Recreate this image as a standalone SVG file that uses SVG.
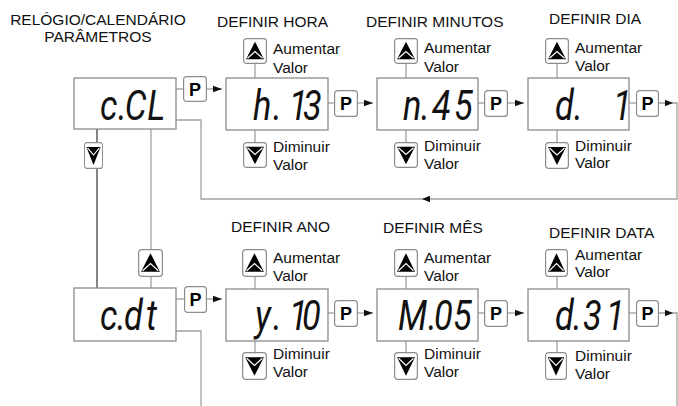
<svg xmlns="http://www.w3.org/2000/svg" xmlns:xlink="http://www.w3.org/1999/xlink" width="678" height="406" viewBox="0 0 678 406">
  <style>
    .lbl { font-family: "Liberation Sans", Arial, sans-serif; font-size: 15.5px; fill: #111; }
    .disp { font-family: Roboto, "Liberation Sans", sans-serif; font-style: italic; font-weight: 400; font-size: 43px; fill: #111; }
    .pkey { font-family: "Liberation Sans", Arial, sans-serif; font-weight: bold; font-size: 18px; fill: #000; text-anchor: middle; }
    .box { fill: #fff; stroke: #8c8c8c; stroke-width: 1.3; }
    .key { fill: #fff; stroke: #8c8c8c; stroke-width: 1.2; }
    .wire { fill: none; stroke: #a0a0a0; stroke-width: 1.3; }
    .wire-dark { fill: none; stroke: #333; stroke-width: 1.2; }
    .head { fill: #111; }
  </style>
  <defs>
    <marker id="arr" markerUnits="userSpaceOnUse" markerWidth="10" markerHeight="8" refX="9" refY="4" orient="auto">
      <path d="M0,0.8 L9,4 L0,7.2 Z" fill="#111"/>
    </marker>
    <symbol id="up" viewBox="0 0 24 27" preserveAspectRatio="none">
      <rect x="0.6" y="0.6" width="22.8" height="25.8" rx="3" class="key"/>
      <path d="M12,4 L21,22 L3,22 Z" fill="#000"/>
      <path d="M4.5,21 L12,14 L19.5,21" fill="none" stroke="#fff" stroke-width="1.2"/>
    </symbol>
    <symbol id="down" viewBox="0 0 24 27" preserveAspectRatio="none">
      <rect x="0.6" y="0.6" width="22.8" height="25.8" rx="3" class="key"/>
      <path d="M3,5 L21,5 L12,23 Z" fill="#000"/>
      <path d="M4.5,6 L12,13 L19.5,6" fill="none" stroke="#fff" stroke-width="1.2"/>
    </symbol>
    <symbol id="pk" viewBox="0 0 24 27" preserveAspectRatio="none">
      <rect x="0.6" y="0.6" width="22.8" height="25.8" rx="3" class="key"/>
    </symbol>
  </defs>

  <!-- section titles -->
  <g id="titles">
    <text class="lbl" x="98" y="25" text-anchor="middle">RELÓGIO/CALENDÁRIO</text>
    <text class="lbl" x="98" y="42" text-anchor="middle">PARÂMETROS</text>
    <text class="lbl" x="217" y="27">DEFINIR HORA</text>
    <text class="lbl" x="366" y="27">DEFINIR MINUTOS</text>
    <text class="lbl" x="549" y="24">DEFINIR DIA</text>
    <text class="lbl" x="231" y="232">DEFINIR ANO</text>
    <text class="lbl" x="383" y="233">DEFINIR MÊS</text>
    <text class="lbl" x="549" y="238">DEFINIR DATA</text>
  </g>

  <!-- connectors -->
  <g id="connectors">
    <!-- top row -->
    <line class="wire" x1="176" y1="89" x2="183" y2="89"/>
    <line class="wire" x1="207" y1="89" x2="222" y2="89" marker-end="url(#arr)"/>
    <line class="wire" x1="328" y1="103" x2="334" y2="103"/>
    <line class="wire" x1="358" y1="103" x2="373" y2="103" marker-end="url(#arr)"/>
    <line class="wire" x1="478" y1="103" x2="484" y2="103"/>
    <line class="wire" x1="508" y1="103" x2="524" y2="103" marker-end="url(#arr)"/>
    <line class="wire" x1="629" y1="103" x2="636" y2="103"/>
    <path class="wire" d="M659,103 H677 V199 H201 V120 H176"/>
    <path class="head" d="M673,103 L665,99.8 L665,106.2 Z"/>
    <path class="head" d="M422,199 L430,195.8 L430,202.2 Z"/>
    <!-- key stems, top row -->
    <line class="wire" x1="255" y1="64" x2="255" y2="78"/>
    <line class="wire" x1="255" y1="130" x2="255" y2="142"/>
    <line class="wire" x1="406" y1="64" x2="406" y2="78"/>
    <line class="wire" x1="406" y1="130" x2="406" y2="142"/>
    <line class="wire" x1="557" y1="64" x2="557" y2="78"/>
    <line class="wire" x1="557" y1="130" x2="557" y2="142"/>
    <!-- left column -->
    <line class="wire-dark" x1="97" y1="129" x2="97" y2="142"/>
    <line class="wire-dark" x1="97" y1="169" x2="97" y2="288"/>
    <line class="wire" x1="151" y1="129" x2="151" y2="249"/>
    <line class="wire" x1="151" y1="277" x2="151" y2="288"/>
    <!-- bottom row -->
    <line class="wire" x1="176" y1="299" x2="184" y2="299"/>
    <line class="wire" x1="207" y1="299" x2="222" y2="299" marker-end="url(#arr)"/>
    <line class="wire" x1="328" y1="313" x2="334" y2="313"/>
    <line class="wire" x1="358" y1="313" x2="373" y2="313" marker-end="url(#arr)"/>
    <line class="wire" x1="478" y1="313" x2="484" y2="313"/>
    <line class="wire" x1="508" y1="313" x2="524" y2="313" marker-end="url(#arr)"/>
    <line class="wire" x1="629" y1="313" x2="636" y2="313"/>
    <path class="wire" d="M659,313 H677 V406"/>
    <path class="head" d="M673,313 L665,309.8 L665,316.2 Z"/>
    <path class="wire" d="M176,331 H201 V406"/>
    <!-- key stems, bottom row -->
    <line class="wire" x1="255" y1="277" x2="255" y2="289"/>
    <line class="wire" x1="255" y1="341" x2="255" y2="352"/>
    <line class="wire" x1="406" y1="277" x2="406" y2="289"/>
    <line class="wire" x1="406" y1="341" x2="406" y2="352"/>
    <line class="wire" x1="557" y1="277" x2="557" y2="289"/>
    <line class="wire" x1="557" y1="341" x2="557" y2="352"/>
  </g>

  <!-- menu entry: clock / calendar -->
  <g id="node-ccl">
    <rect class="box" x="74" y="78" width="102" height="51"/>
    <text class="disp" transform="translate(100,120) scale(0.8,1)" x="0 22.5 31 59" y="0">c.CL</text>
    <use xlink:href="#pk" x="183" y="76" width="24" height="26"/>
    <text class="pkey" x="195" y="96">P</text>
    <use xlink:href="#down" x="84" y="142" width="19" height="27"/>
  </g>

  <g id="node-hora">
    <rect class="box" x="226" y="78" width="102" height="52"/>
    <text class="disp" transform="translate(253,120) scale(0.8,1)" x="0 25 45 62.5" y="0">h.13</text>
    <use xlink:href="#up" x="243" y="38" width="24" height="26"/>
    <use xlink:href="#down" x="243" y="142" width="24" height="26"/>
    <text class="lbl" x="273" y="54">Aumentar</text>
    <text class="lbl" x="273" y="73">Valor</text>
    <text class="lbl" x="273" y="152">Diminuir</text>
    <text class="lbl" x="273" y="170">Valor</text>
    <use xlink:href="#pk" x="334" y="90" width="24" height="27"/>
    <text class="pkey" x="346" y="110">P</text>
  </g>

  <g id="node-minutos">
    <rect class="box" x="377" y="78" width="101" height="52"/>
    <text class="disp" transform="translate(403,120) scale(0.8,1)" x="0 22.5 36.25 63.75" y="0">n.45</text>
    <use xlink:href="#up" x="394" y="38" width="24" height="26"/>
    <use xlink:href="#down" x="394" y="142" width="24" height="26"/>
    <text class="lbl" x="424" y="53">Aumentar</text>
    <text class="lbl" x="424" y="72">Valor</text>
    <text class="lbl" x="424" y="151">Diminuir</text>
    <text class="lbl" x="424" y="169">Valor</text>
    <use xlink:href="#pk" x="484" y="90" width="24" height="27"/>
    <text class="pkey" x="496" y="110">P</text>
  </g>

  <g id="node-dia">
    <rect class="box" x="528" y="78" width="101" height="52"/>
    <text class="disp" transform="translate(555,120) scale(0.8,1)" x="0 23.75 50 72.5" y="0" xml:space="preserve">d. 1</text>
    <use xlink:href="#up" x="545" y="38" width="24" height="26"/>
    <use xlink:href="#down" x="545" y="142" width="24" height="27"/>
    <text class="lbl" x="575" y="53">Aumentar</text>
    <text class="lbl" x="575" y="71">Valor</text>
    <text class="lbl" x="575" y="151">Diminuir</text>
    <text class="lbl" x="575" y="168">Valor</text>
    <use xlink:href="#pk" x="636" y="90" width="23" height="27"/>
    <text class="pkey" x="647.5" y="110">P</text>
  </g>

  <!-- menu entry: date -->
  <g id="node-cdt">
    <rect class="box" x="74" y="288" width="102" height="53"/>
    <text class="disp" transform="translate(100,330) scale(0.8,1)" x="0 21.25 30 57.5" y="0">c.dt</text>
    <use xlink:href="#up" x="138" y="249" width="25" height="28"/>
    <use xlink:href="#pk" x="184" y="286" width="23" height="27"/>
    <text class="pkey" x="195.5" y="306">P</text>
  </g>

  <g id="node-ano">
    <rect class="box" x="226" y="289" width="102" height="52"/>
    <text class="disp" transform="translate(255,330) scale(0.8,1)" x="0 22.5 42.5 58.75" y="0">y.10</text>
    <use xlink:href="#up" x="242" y="249" width="25" height="28"/>
    <use xlink:href="#down" x="242" y="352" width="25" height="28"/>
    <text class="lbl" x="273" y="263">Aumentar</text>
    <text class="lbl" x="273" y="281">Valor</text>
    <text class="lbl" x="273" y="359">Diminuir</text>
    <text class="lbl" x="273" y="377">Valor</text>
    <use xlink:href="#pk" x="334" y="300" width="24" height="27"/>
    <text class="pkey" x="346" y="320">P</text>
  </g>

  <g id="node-mes">
    <rect class="box" x="377" y="289" width="101" height="52"/>
    <text class="disp" transform="translate(398,330) scale(0.8,1)" x="0 37.5 45 68.75" y="0">M.05</text>
    <use xlink:href="#up" x="394" y="249" width="24" height="28"/>
    <use xlink:href="#down" x="394" y="352" width="24" height="28"/>
    <text class="lbl" x="424" y="263">Aumentar</text>
    <text class="lbl" x="424" y="281">Valor</text>
    <text class="lbl" x="424" y="359">Diminuir</text>
    <text class="lbl" x="424" y="377">Valor</text>
    <use xlink:href="#pk" x="484" y="300" width="24" height="27"/>
    <text class="pkey" x="496" y="320">P</text>
  </g>

  <g id="node-data">
    <rect class="box" x="528" y="289" width="101" height="52"/>
    <text class="disp" transform="translate(555,330) scale(0.8,1)" x="0 22.5 35 63.75" y="0">d.31</text>
    <use xlink:href="#up" x="545" y="249" width="23" height="28"/>
    <use xlink:href="#down" x="545" y="352" width="22" height="28"/>
    <text class="lbl" x="575" y="260">Aumentar</text>
    <text class="lbl" x="575" y="277">Valor</text>
    <text class="lbl" x="575" y="361">Diminuir</text>
    <text class="lbl" x="575" y="379">Valor</text>
    <use xlink:href="#pk" x="636" y="300" width="23" height="27"/>
    <text class="pkey" x="647.5" y="320">P</text>
  </g>
</svg>
